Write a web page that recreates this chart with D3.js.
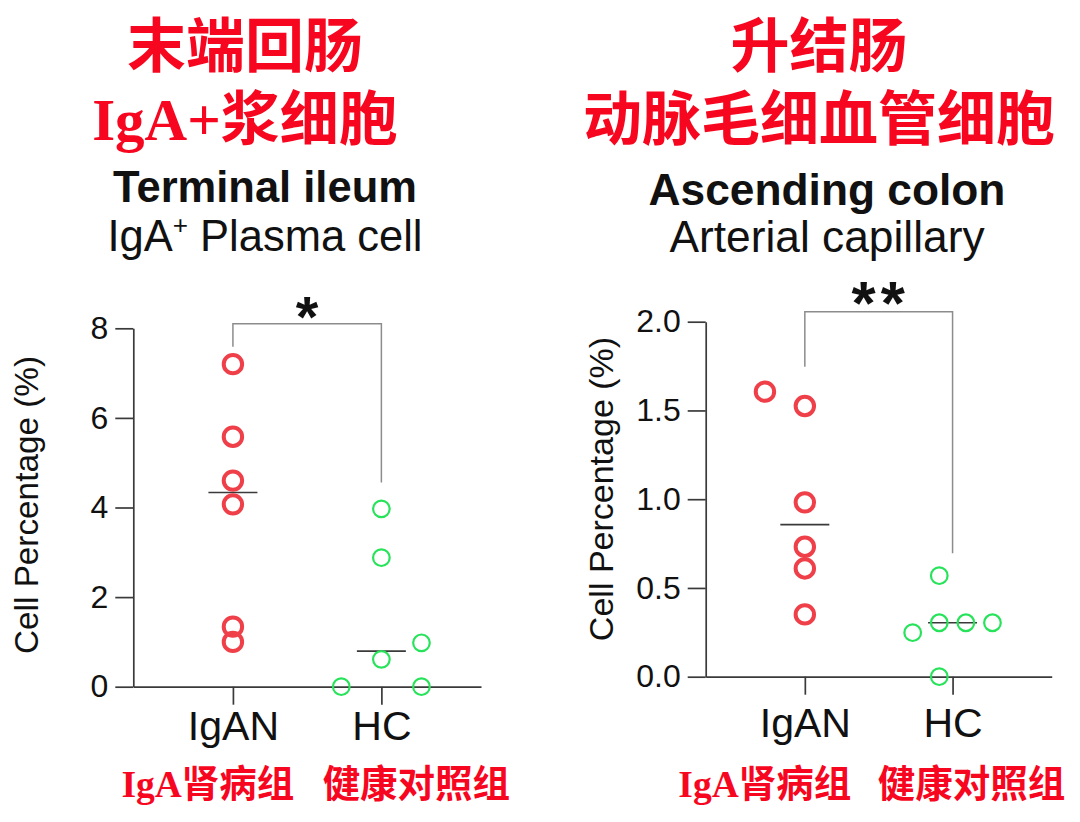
<!DOCTYPE html>
<html><head><meta charset="utf-8">
<script src="https://cdn.jsdelivr.net/npm/d3@7"></script>
<style>
html,body{margin:0;padding:0;background:#fff;}
svg{display:block;}
</style></head>
<body>
<svg id="chart" width="1080" height="822"></svg>
<script>
// ---------- data ----------
const groups = ["IgAN", "HC"];
const groupLabelsCN = ["IgA肾病组", "健康对照组"];

const ileumTitleCN = ["末端回肠", "IgA+浆细胞"];
const ileumTicks = [0, 2, 4, 6, 8];
const ileumIgAN = [7.2, 5.58, 4.6, 4.07, 1.34, 1.0];
const ileumIgANSlot = [0, 0, 0, 0, 0, 0];
const ileumHC = [3.97, 2.88, 0.61, 0, 0.98, 0];
const ileumHCSlot = [0, 0, 0, -3, 3, 3];
const ileumBracket = [8.1, 7.59, 4.56]; // top, left end, right end
const ileumSig = "*";

const colonTitleCN = ["升结肠", "动脉毛细血管细胞"];
const colonTicks = [0, 0.5, 1.0, 1.5, 2.0];
const colonIgAN = [1.606, 1.525, 0.982, 0.732, 0.61, 0.351];
const colonIgANSlot = [-3, 0, 0, 0, 0, 0];
const colonHC = [0.569, 0.304, 0.304, 0.304, 0.248, 0];
const colonHCSlot = [-1, -1, 1, 3, -3, -1];
const colonBracket = [2.056, 1.746, 0.695];
const colonSig = "**";

// ---------- drawing ----------
const svg = d3.select("#chart");
const SANS = "'Liberation Sans', Arial, Helvetica, sans-serif";
const CN = "'Liberation Serif', 'Noto Sans CJK SC', serif";
const RED_TXT = "#f7071f";
const RED = "#ef3f48";
const GREEN = "#27e35a";
const AX = "#3a3a3a";

function panel(cfg) {
  const g = svg.append("g");
  const x = d3.scalePoint().domain(groups).range(cfg.xRange).padding(0.671);
  const y = d3.scaleLinear().domain(cfg.yDomain).range(cfg.yRange);
  const unit = x.step() * 0.09;

  // titles
  cfg.titleCN.forEach((t, i) => {
    g.append("text").attr("x", cfg.cnCenter).attr("y", cfg.cnBase[i])
      .attr("text-anchor", "middle").attr("font-family", CN).attr("font-weight", "bold")
      .attr("font-size", 59).attr("fill", RED_TXT).text(t);
  });
  g.append("text").attr("x", cfg.enCenter).attr("y", cfg.enBase[0])
    .attr("text-anchor", "middle").attr("font-family", SANS).attr("font-weight", "bold")
    .attr("font-size", cfg.enSize).attr("fill", "#111").text(cfg.titleEN[0]);
  const t2 = g.append("text").attr("x", cfg.enCenter).attr("y", cfg.enBase[1])
    .attr("text-anchor", "middle").attr("font-family", SANS)
    .attr("font-size", cfg.enSize).attr("fill", "#111");
  cfg.titleEN[1].forEach(p => {
    const ts = t2.append("tspan").text(p.t);
    if (p.sup) ts.attr("font-size", cfg.enSize * 0.6).attr("dy", -cfg.enSize * 0.38);
    if (p.after) ts.attr("dy", cfg.enSize * 0.38);
  });

  // y axis
  const ya = g.append("g").attr("transform", `translate(${cfg.xRange[0]},0)`)
    .call(d3.axisLeft(y).tickValues(cfg.ticks).tickFormat(cfg.fmt)
      .tickSize(18).tickSizeOuter(0).tickPadding(7));
  // x axis
  const xa = g.append("g").attr("transform", `translate(0,${cfg.yRange[0]})`)
    .call(d3.axisBottom(x).tickSize(18).tickSizeOuter(0).tickPadding(cfg.xPad));
  [ya, xa].forEach(a => {
    a.select(".domain").attr("stroke", AX).attr("stroke-width", 1.7);
    a.selectAll(".tick line").attr("stroke", AX).attr("stroke-width", 1.7);
    a.selectAll(".tick text").attr("fill", "#111").attr("font-family", SANS);
  });
  ya.selectAll(".tick text").attr("font-size", 32);
  xa.selectAll(".tick text").attr("font-size", 41);

  // y label
  g.append("text").attr("transform", "rotate(-90)")
    .attr("x", -cfg.yLab[1]).attr("y", cfg.yLab[0])
    .attr("text-anchor", "middle").attr("font-family", SANS)
    .attr("font-size", cfg.yLabSize).attr("fill", "#111").text("Cell Percentage (%)");

  // bracket
  const [bt, bl, br] = cfg.bracket;
  g.append("path")
    .attr("d", `M${x("IgAN")},${y(bl)}V${y(bt)}H${x("HC")}V${y(br)}`)
    .attr("fill", "none").attr("stroke", "#8c8c8c").attr("stroke-width", 1.5);
  g.append("text").attr("x", (x("IgAN") + x("HC")) / 2 + cfg.sigDx).attr("y", y(bt) + cfg.sigDy)
    .attr("text-anchor", "middle").attr("font-family", SANS).attr("font-weight", "bold")
    .attr("letter-spacing", cfg.sigSpace)
    .attr("font-size", cfg.sigSize).attr("fill", "#111").text(cfg.sig);

  // medians
  const sets = [
    {grp: "IgAN", vals: cfg.igan, slots: cfg.iganSlot, color: RED, r: 9.2, sw: 4},
    {grp: "HC", vals: cfg.hc, slots: cfg.hcSlot, color: GREEN, r: 8.3, sw: 2.2}
  ];
  sets.forEach(s => {
    const m = d3.median(s.vals);
    g.append("line").attr("x1", x(s.grp) - 24.5).attr("x2", x(s.grp) + 24.5)
      .attr("y1", y(m)).attr("y2", y(m)).attr("stroke", AX).attr("stroke-width", 1.6);
  });
  sets.forEach(s => {
    g.append("g").selectAll("circle").data(s.vals).join("circle")
      .attr("cx", (d, i) => x(s.grp) + s.slots[i] * unit)
      .attr("cy", d => y(d))
      .attr("r", s.r).attr("fill", "none").attr("stroke", s.color).attr("stroke-width", s.sw);
  });

  // chinese group labels
  groupLabelsCN.forEach((t, i) => {
    g.append("text").attr("x", x(groups[i]) + cfg.cnLabDx[i]).attr("y", 797)
      .attr("text-anchor", "middle").attr("font-family", CN).attr("font-weight", "bold")
      .attr("font-size", 37.5).attr("fill", RED_TXT).text(t);
  });
}

panel({
  xRange: [133.3, 481], yRange: [686.7, 328.3], yDomain: [0, 8],
  ticks: ileumTicks, fmt: d3.format("d"), xPad: 6,
  igan: ileumIgAN, iganSlot: ileumIgANSlot, hc: ileumHC, hcSlot: ileumHCSlot,
  bracket: ileumBracket, sig: ileumSig, sigSize: 58, sigDy: 13, sigDx: 0, sigSpace: 0,
  titleCN: ileumTitleCN, cnCenter: 245, cnBase: [67, 140],
  titleEN: ["Terminal ileum", [{t: "IgA"}, {t: "+", sup: true}, {t: " Plasma cell", after: true}]],
  enCenter: 265, enBase: [201.5, 250.5], enSize: 43.5,
  yLab: [38, 505], yLabSize: 33.3,
  cnLabDx: [-25, 35]
});

panel({
  xRange: [705.7, 1051.7], yRange: [676.7, 321.7], yDomain: [0, 2],
  ticks: colonTicks, fmt: d3.format(".1f"), xPad: 13,
  igan: colonIgAN, iganSlot: colonIgANSlot, hc: colonHC, hcSlot: colonHCSlot,
  bracket: colonBracket, sig: colonSig, sigSize: 62, sigDy: 12, sigDx: 2, sigSpace: 5,
  titleCN: colonTitleCN, cnCenter: 819, cnBase: [67, 140],
  titleEN: ["Ascending colon", [{t: "Arterial capillary"}]],
  enCenter: 827, enBase: [205, 251.5], enSize: 44.3,
  yLab: [612.5, 489], yLabSize: 34,
  cnLabDx: [-40, 19]
});
</script>
</body></html>
